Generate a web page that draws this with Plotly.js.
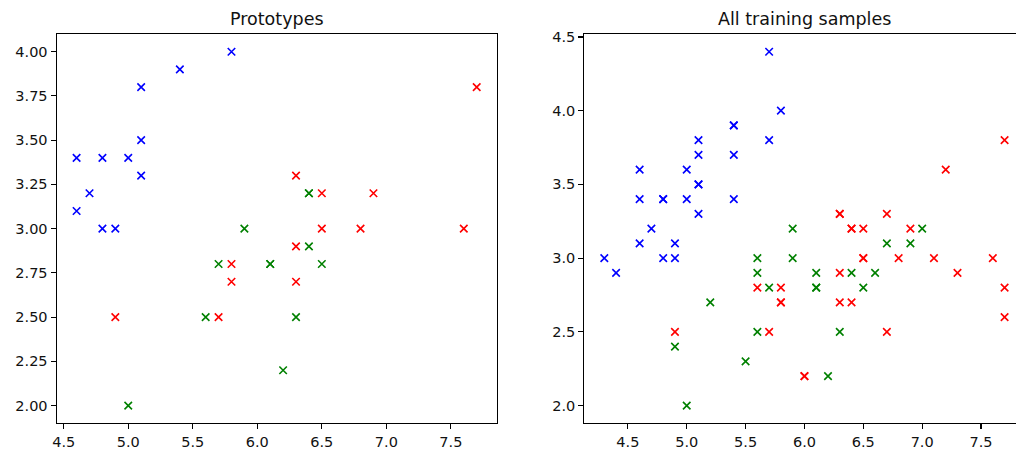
<!DOCTYPE html>
<html>
<head>
<meta charset="utf-8">
<script src="https://cdn.plot.ly/plotly-3.0.1.min.js"></script>
<style>
html,body{margin:0;padding:0;overflow:hidden;background:#fff;}
#chart{width:1030px;height:456px;}
</style>
</head>
<body>
<div id="chart"></div>
<script>
// Prototypes (left)
const protoBlueX = [4.6, 4.7, 4.6, 4.8, 5.0, 5.1, 5.1, 5.1, 5.4, 5.8, 4.8, 4.9];
const protoBlueY = [3.4, 3.2, 3.1, 3.4, 3.4, 3.8, 3.5, 3.3, 3.9, 4.0, 3.0, 3.0];
const protoRedX = [6.3, 6.3, 5.8, 5.8, 6.3, 4.9, 5.7, 7.7, 6.5, 6.9, 6.5, 6.8, 7.6];
const protoRedY = [3.3, 2.9, 2.8, 2.7, 2.7, 2.5, 2.5, 3.8, 3.2, 3.2, 3.0, 3.0, 3.0];
const protoGreenX = [5.9, 5.7, 6.1, 6.1, 5.6, 6.3, 6.2, 5.0, 6.4, 6.4, 6.4, 6.5];
const protoGreenY = [3.0, 2.8, 2.8, 2.8, 2.5, 2.5, 2.2, 2.0, 3.2, 3.2, 2.9, 2.8];

// All training samples (right)
const allBlueX = [5.7, 5.8, 5.7, 5.4, 5.4, 5.4, 5.4, 5.1, 5.1, 5.1, 5.1, 5.1, 5.0, 5.0, 4.8, 4.8, 4.6, 4.6, 4.7, 4.6, 4.9, 4.3, 4.4, 4.8, 4.9];
const allBlueY = [4.4, 4.0, 3.8, 3.9, 3.9, 3.7, 3.4, 3.8, 3.7, 3.5, 3.5, 3.3, 3.6, 3.4, 3.4, 3.4, 3.6, 3.4, 3.2, 3.1, 3.1, 3.0, 2.9, 3.0, 3.0];
const allRedX = [5.6, 5.8, 5.8, 5.8, 4.9, 5.7, 7.7, 7.2, 6.3, 6.3, 6.7, 6.4, 6.4, 6.5, 6.9, 6.5, 6.5, 6.8, 7.1, 7.6, 6.3, 7.3, 7.7, 6.3, 6.4, 7.7, 6.7, 6.0, 6.0];
const allRedY = [2.8, 2.8, 2.7, 2.7, 2.5, 2.5, 3.8, 3.6, 3.3, 3.3, 3.3, 3.2, 3.2, 3.2, 3.2, 3.0, 3.0, 3.0, 3.0, 3.0, 2.9, 2.9, 2.8, 2.7, 2.7, 2.6, 2.5, 2.2, 2.2];
const allGreenX = [5.6, 5.6, 5.7, 5.2, 4.9, 5.6, 5.5, 5.0, 5.9, 7.0, 6.7, 6.9, 5.9, 6.4, 6.6, 6.1, 6.1, 6.1, 6.5, 6.3, 6.2];
const allGreenY = [3.0, 2.9, 2.8, 2.7, 2.4, 2.5, 2.3, 2.0, 3.2, 3.2, 3.1, 3.1, 3.0, 2.9, 2.9, 2.9, 2.8, 2.8, 2.8, 2.5, 2.2];

const leftXTicks = [4.5, 5.0, 5.5, 6.0, 6.5, 7.0, 7.5];
const leftYTicks = [2.00, 2.25, 2.50, 2.75, 3.00, 3.25, 3.50, 3.75, 4.00];
const rightXTicks = [4.5, 5.0, 5.5, 6.0, 6.5, 7.0, 7.5];
const rightYTicks = [2.0, 2.5, 3.0, 3.5, 4.0, 4.5];
const titles = ["Prototypes", "All training samples"];

const W = 1030, H = 456;
function mk(x, y, color, xa, ya) {
  return {
    x: x, y: y, type: 'scatter', mode: 'markers', xaxis: xa, yaxis: ya,
    hoverinfo: 'skip', showlegend: false,
    marker: {symbol: 'x-thin', size: 7.5, color: color, line: {color: color, width: 1.6}}
  };
}
const data = [
  mk(protoBlueX, protoBlueY, '#0000ff', 'x', 'y'),
  mk(protoRedX, protoRedY, '#ff0000', 'x', 'y'),
  mk(protoGreenX, protoGreenY, '#008000', 'x', 'y'),
  mk(allBlueX, allBlueY, '#0000ff', 'x2', 'y2'),
  mk(allRedX, allRedY, '#ff0000', 'x2', 'y2'),
  mk(allGreenX, allGreenY, '#008000', 'x2', 'y2')
];
const font = {family: 'DejaVu Sans, sans-serif', size: 14.5, color: '#111'};
function ax(domain, range, ticks, fmt, anchor) {
  return {
    domain: domain, range: range, tickvals: ticks, tickformat: fmt,
    showgrid: false, zeroline: false, showline: true, mirror: true,
    linecolor: '#000', linewidth: 1.1, ticks: 'outside', ticklen: 5,
    tickwidth: 1.1, tickcolor: '#000', tickfont: font, anchor: anchor,
    fixedrange: true
  };
}
const xd1 = [56.6 / W, 496.7 / W], xd2 = [584.3 / W, 1024.6 / W];
const yd = [(H - 423.3) / H, (H - 34) / H];
const titleFont = {family: 'DejaVu Sans, sans-serif', size: 17.5, color: '#111'};
const layout = {
  width: W, height: H,
  margin: {l: 0, r: 0, t: 0, b: 0},
  paper_bgcolor: '#fff', plot_bgcolor: '#fff',
  font: font,
  xaxis: ax(xd1, [4.445, 7.855], leftXTicks, '.1f', 'y'),
  yaxis: ax(yd, [1.9, 4.1], leftYTicks, '.2f', 'x'),
  xaxis2: ax(xd2, [4.13, 7.87], rightXTicks, '.1f', 'y2'),
  yaxis2: ax(yd, [1.88, 4.52], rightYTicks, '.1f', 'x2'),
  annotations: [
    {text: titles[0], xref: 'paper', yref: 'paper', x: (xd1[0] + xd1[1]) / 2, y: yd[1],
     xanchor: 'center', yanchor: 'bottom', yshift: 3, showarrow: false, font: titleFont},
    {text: titles[1], xref: 'paper', yref: 'paper', x: (xd2[0] + xd2[1]) / 2, y: yd[1],
     xanchor: 'center', yanchor: 'bottom', yshift: 3, showarrow: false, font: titleFont}
  ]
};
Plotly.newPlot('chart', data, layout, {displayModeBar: false, staticPlot: true});
</script>
</body>
</html>
